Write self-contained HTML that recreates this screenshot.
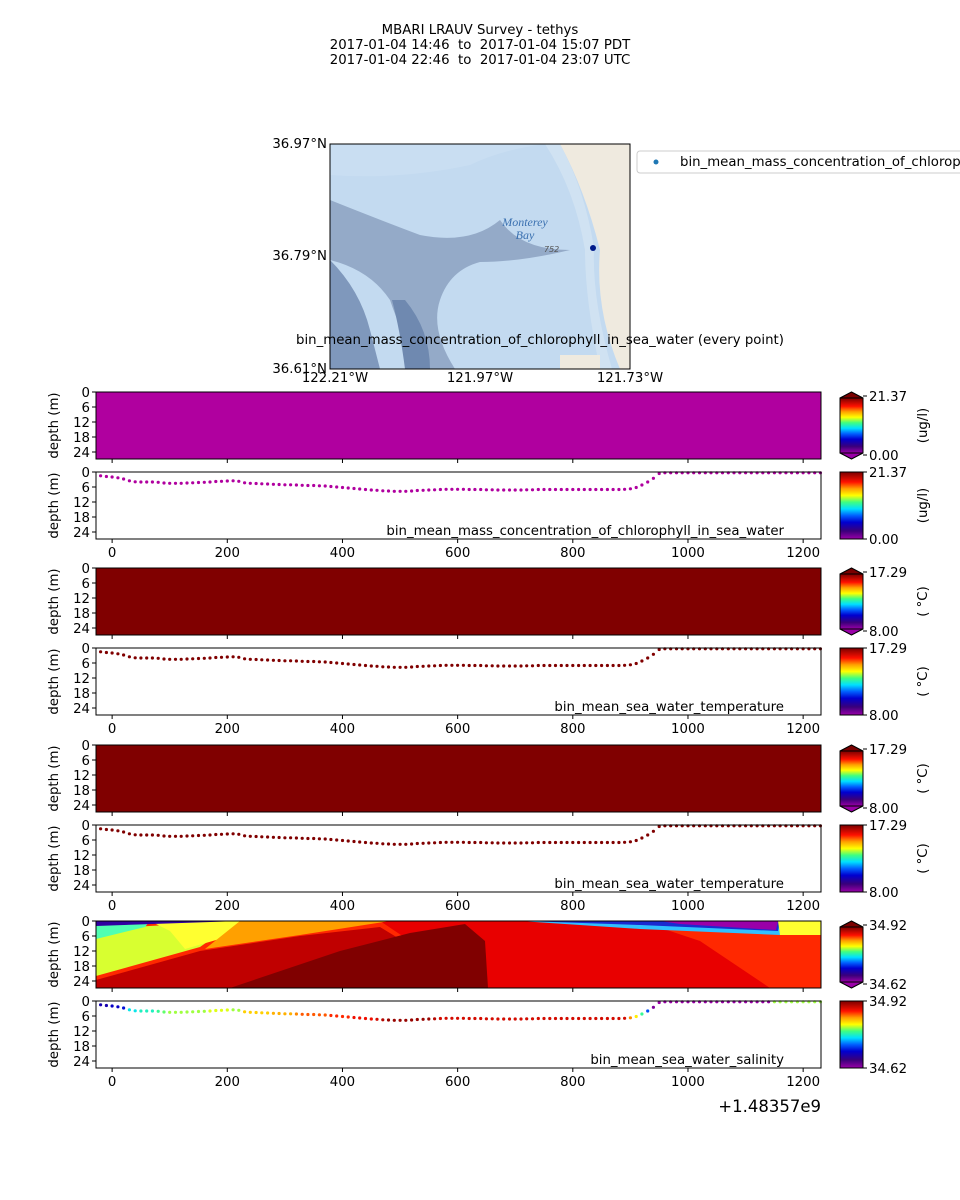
<!DOCTYPE html>
<html><head><meta charset="utf-8"><style>
html,body{margin:0;padding:0;background:#fff}
svg{display:block;font-family:"DejaVu Sans","Liberation Sans",sans-serif}
text{white-space:pre}
</style></head><body>
<svg id="fig" width="960" height="1200" viewBox="0 0 960 1200">
<defs>
<linearGradient id="cmap" x1="0" y1="1" x2="0" y2="0">
<stop offset="0" stop-color="#9a00a8"/><stop offset="0.12" stop-color="#3a007a"/>
<stop offset="0.25" stop-color="#0000d0"/><stop offset="0.35" stop-color="#0060ff"/>
<stop offset="0.45" stop-color="#00e0ff"/><stop offset="0.55" stop-color="#40ff80"/>
<stop offset="0.65" stop-color="#ffff00"/><stop offset="0.75" stop-color="#ffa000"/>
<stop offset="0.85" stop-color="#ff1000"/><stop offset="1" stop-color="#7a0000"/>
</linearGradient>
<clipPath id="mapclip"><rect x="330" y="144" width="300" height="225"/></clipPath>
</defs>
<g font-size="13.3" text-anchor="middle" fill="#000">
<text x="480" y="34">MBARI LRAUV Survey - tethys</text>
<text x="480" y="49" xml:space="preserve">2017-01-04 14:46  to  2017-01-04 15:07 PDT</text>
<text x="480" y="64" xml:space="preserve">2017-01-04 22:46  to  2017-01-04 23:07 UTC</text>
</g>
<g>
<g clip-path="url(#mapclip)">
<rect x="330" y="144" width="300" height="225" fill="#c3daf0"/>
<path d="M330,144 L560,144 Q585,190 600,250 Q595,310 620,369 L630,369 L630,144 Z" fill="#efeadf"/>
<path d="M560,144 Q585,190 594,248 Q592,300 612,369 L600,369 Q585,300 585,250 Q575,190 545,144Z" fill="#d0e2f2"/>
<path d="M330,144 L545,144 Q500,150 470,165 Q400,180 330,175Z" fill="#c9def2"/>
<path d="M330,200 Q380,220 420,235 Q470,245 500,220 Q520,250 570,250 Q520,262 480,262 Q450,270 440,300 Q430,330 455,369 L420,369 Q400,330 390,300 Q370,270 330,260Z" fill="#94aac8"/>
<path d="M330,260 Q360,290 370,330 L380,369 L330,369Z" fill="#7f98bc"/>
<path d="M405,300 Q430,330 430,369 L405,369 Q400,330 392,300Z" fill="#6f89b0"/>
<rect x="560" y="355" width="40" height="14" fill="#efeadf"/>
<text x="525" y="226" font-size="12" font-style="italic" fill="#3a70b0" font-family="Liberation Serif,serif" text-anchor="middle">Monterey</text>
<text x="525" y="239" font-size="12" font-style="italic" fill="#3a70b0" font-family="Liberation Serif,serif" text-anchor="middle">Bay</text>
<text x="544" y="252" font-size="8" fill="#555" font-style="italic">752</text>
</g>
<rect x="330" y="144" width="300" height="225" fill="none" stroke="#000"/>
<circle cx="593" cy="248" r="3" fill="#001a8a"/>
<g font-size="13.3" fill="#000">
<text x="327" y="148" text-anchor="end">36.97°N</text>
<text x="327" y="260" text-anchor="end">36.79°N</text>
<text x="327" y="373" text-anchor="end">36.61°N</text>
<text x="335" y="382" text-anchor="middle">122.21°W</text>
<text x="480" y="382" text-anchor="middle">121.97°W</text>
<text x="630" y="382" text-anchor="middle">121.73°W</text>
</g>
<text x="540" y="344" font-size="13.3" text-anchor="middle">bin_mean_mass_concentration_of_chlorophyll_in_sea_water (every point)</text>
<g>
<rect x="637" y="151" width="340" height="22" rx="3" fill="#fff" stroke="#ccc"/>
<circle cx="656" cy="162" r="2.5" fill="#1f77b4"/>
<text x="680" y="166" font-size="13.3">bin_mean_mass_concentration_of_chlorophyll_in_sea_water</text>
</g>
</g>
<g id="panels"></g>
<text x="821" y="1112" font-size="16.5" text-anchor="end">+1.48357e9</text>
</svg>
<script>
const times=[];for(let i=0;i<126;i++)times.push(-20+i*10);
const depths=[1.5,1.8,2.0,2.3,2.8,3.5,3.9,4.0,4.0,4.0,4.1,4.4,4.5,4.5,4.5,4.4,4.3,4.2,4.1,4.0,3.8,3.7,3.6,3.5,3.7,4.3,4.5,4.6,4.7,4.8,4.9,5.0,5.1,5.1,5.2,5.3,5.4,5.4,5.5,5.6,5.8,6.0,6.2,6.4,6.6,6.8,7.0,7.2,7.3,7.5,7.6,7.7,7.7,7.7,7.6,7.4,7.3,7.2,7.1,7.0,6.9,6.9,6.9,6.9,7.0,7.0,7.0,7.1,7.1,7.2,7.2,7.2,7.2,7.2,7.1,7.1,7.0,7.0,7.0,7.0,7.0,7.0,7.0,7.0,7.0,7.0,7.0,7.0,7.0,7.0,7.0,6.9,6.7,6.2,5.2,4.0,2.5,0.6,0.3,0.3,0.3,0.3,0.3,0.3,0.3,0.3,0.3,0.3,0.3,0.3,0.3,0.3,0.3,0.3,0.3,0.3,0.3,0.3,0.3,0.3,0.3,0.3,0.3,0.3,0.3,0.3];
const salinity=[34.68,34.68,34.69,34.69,34.70,34.76,34.76,34.77,34.77,34.77,34.78,34.79,34.80,34.80,34.80,34.80,34.80,34.80,34.80,34.81,34.81,34.81,34.81,34.80,34.80,34.83,34.83,34.83,34.83,34.83,34.84,34.84,34.84,34.84,34.85,34.86,34.86,34.86,34.86,34.86,34.87,34.87,34.87,34.87,34.88,34.88,34.88,34.88,34.89,34.90,34.91,34.91,34.91,34.91,34.91,34.91,34.91,34.91,34.90,34.89,34.89,34.89,34.89,34.89,34.89,34.89,34.89,34.89,34.89,34.89,34.89,34.89,34.89,34.89,34.89,34.89,34.89,34.89,34.89,34.89,34.89,34.89,34.89,34.89,34.89,34.89,34.89,34.89,34.89,34.89,34.89,34.89,34.85,34.82,34.78,34.72,34.63,34.62,34.62,34.62,34.62,34.62,34.62,34.62,34.62,34.62,34.62,34.62,34.62,34.62,34.62,34.62,34.62,34.62,34.62,34.62,34.62,34.80,34.80,34.80,34.80,34.80,34.80,34.80,34.80,34.80];
const xTicks=[0,200,400,600,800,1000,1200];
const depthTicks=[0,6,12,18,24];
const panelTops=[392,472,568,648,745,825,921,1001];
const panelKinds=['fill','scatter','fill','scatter','fill','scatter','salfill','scatter'];
const panelNames=['chlorophyll','chlorophyll','temperature','temperature','temperature','temperature','salinity','salinity'];
const panelLabels=['','bin_mean_mass_concentration_of_chlorophyll_in_sea_water','','bin_mean_sea_water_temperature','','bin_mean_sea_water_temperature','','bin_mean_sea_water_salinity'];
const cbMin=['0.00','0.00','8.00','8.00','8.00','8.00','34.62','34.62'];
const cbMax=['21.37','21.37','17.29','17.29','17.29','17.29','34.92','34.92'];
const cbUnits=['(ug/l)','(ug/l)','( °C)','( °C)','( °C)','( °C)','',''];
const NS='http://www.w3.org/2000/svg';
const FS=13.3;
const X0=96,X1=821,PH=67,TMIN=-28,TMAX=1231,DMAX=26.8;
const xs=t=>X0+(t-TMIN)/(TMAX-TMIN)*(X1-X0);
const ys=(top,d)=>top+d/DMAX*PH;
const stops=[[0,[154,0,168]],[0.12,[58,0,122]],[0.25,[0,0,208]],[0.35,[0,96,255]],[0.45,[0,224,255]],[0.55,[64,255,128]],[0.65,[255,255,0]],[0.75,[255,160,0]],[0.85,[255,16,0]],[1,[122,0,0]]];
function cmap(f){f=Math.max(0,Math.min(1,f));for(let i=1;i<stops.length;i++){if(f<=stops[i][0]){const a=stops[i-1],b=stops[i],u=(f-a[0])/(b[0]-a[0]);return 'rgb('+a[1].map((c,k)=>Math.round(c+(b[1][k]-c)*u)).join(',')+')';}}return 'rgb(122,0,0)';}
function mk(tag,attrs,parent){const e=document.createElementNS(NS,tag);for(const k in attrs)e.setAttribute(k,attrs[k]);parent.appendChild(e);return e;}
const root=document.getElementById('panels');
panelTops.forEach((top,pi)=>{
  const g=mk('g',{},root);
  
  
  const kind=panelKinds[pi];
  if(kind==='fill'){
    const r=mk('rect',{x:X0,y:top,width:X1-X0,height:PH,fill:pi===0?'#b0009f':'#800000'},g);
    
    
  } else if(kind==='salfill'){
    const cg=mk('g',{},g);
    
    
    const b=top+PH,R=X1;
    const polys=[
      ['#ff2800',`${X0},${top} ${R},${top} ${R},${b} ${X0},${b}`],
      ['#e80000',`380,${top} 640,${top} 700,${top+20} 770,${b} 480,${b}`],
      ['#d8ff30',`${X0},${top+8} 240,${top} 220,${top+12} 200,${top+26} ${X0},${b-12}`],
      ['#ffff30',`150,${top} 270,${top} 230,${top+15} 185,${top+28} 170,${top+10}`],
      ['#50ffb0',`${X0},${top+4} 150,${top} 145,${top+6} ${X0},${top+18}`],
      ['#ffa000',`240,${top} 390,${top} 300,${top+14} 205,${top+28}`],
      ['#c00000',`${X0},${b} ${X0},${b-8} 200,${top+30} 300,${top+15} 380,${top+6} 480,${b}`],
      ['#800000',`230,${b} 340,${top+30} 410,${top+12} 465,${top+3} 485,${top+20} 488,${b}`],
      ['#ffa000',`${R-50},${top} ${R},${top} ${R},${top+12} ${R-50},${top+12}`],
      ['#30c0ff',`520,${top} 790,${top} 780,${top+14} 640,${top+8}`],
      ['#1a2ad0',`525,${top} 780,${top} 778,${top+10} 640,${top+4}`],
      ['#9a00a8',`660,${top} 778,${top} 776,${top+9} 680,${top+3}`],
      ['#3000a0',`${X0},${top} 240,${top} ${X0},${top+5}`],
      ['#ffff30',`778,${top} ${R},${top} ${R},${top+14} 780,${top+14}`]
    ];
    polys.forEach(p=>{const e=mk('polygon',{points:p[1],fill:p[0]},cg);});
  } else {
    const sg=mk('g',{},g);
    
    
    times.forEach((t,i)=>{
      let col=pi===1?'#b0009f':'#800000';
      if(pi===7)col=cmap((salinity[i]-34.62)/0.30);
      const c=mk('circle',{cx:xs(t).toFixed(1),cy:ys(top,depths[i]).toFixed(1),r:1.6,fill:col},sg);
      
      
    });
    const lb=mk('text',{x:784,y:top+63,'font-size':FS,'text-anchor':'end'},g);
    lb.textContent=panelLabels[pi];
    
    
  }
  const frame=mk('rect',{x:X0,y:top,width:X1-X0,height:PH,fill:'none',stroke:'#000','stroke-width':1},g);
  
  
  const yt=mk('g',{'font-size':FS,'text-anchor':'end'},g);
  
  
  depthTicks.forEach(d=>{const y=ys(top,d);mk('line',{x1:X0-4,x2:X0,y1:y,y2:y,stroke:'#000'},yt);const t=mk('text',{x:X0-6,y:y+5},yt);t.textContent=d;});
  const yl=mk('text',{x:58,y:top+PH/2,'font-size':FS,'text-anchor':'middle',transform:`rotate(-90 58 ${top+PH/2})`},g);
  yl.textContent='depth (m)';
  
  
  const xt=mk('g',{'font-size':FS,'text-anchor':'middle'},g);
  
  
  xTicks.forEach(v=>{const x=xs(v);mk('line',{x1:x,x2:x,y1:top+PH,y2:top+PH+4,stroke:'#000'},xt);
    if(kind==='scatter'){const t=mk('text',{x:x,y:top+PH+18},xt);t.textContent=v;}});
  const cb=mk('g',{},g);
  
  
  const cx=840,cw=23;
  if(kind==='scatter'){
    mk('rect',{x:cx,y:top,width:cw,height:PH,fill:'url(#cmap)',stroke:'#000'},cb);
  } else {
    mk('polygon',{points:`${cx},${top+6} ${cx+cw/2},${top} ${cx+cw},${top+6}`,fill:'#7a0000',stroke:'#000'},cb);
    mk('rect',{x:cx,y:top+6,width:cw,height:PH-12,fill:'url(#cmap)',stroke:'#000'},cb);
    mk('polygon',{points:`${cx},${top+PH-6} ${cx+cw/2},${top+PH} ${cx+cw},${top+PH-6}`,fill:'#9a00a8',stroke:'#000'},cb);
  }
  const ins=kind==='scatter'?0:4;
  mk('line',{x1:cx+cw,x2:cx+cw+4,y1:top+ins,y2:top+ins,stroke:'#000'},cb);
  mk('line',{x1:cx+cw,x2:cx+cw+4,y1:top+PH-ins,y2:top+PH-ins,stroke:'#000'},cb);
  const mx=mk('text',{x:cx+cw+6,y:top+ins+5,'font-size':FS},cb);mx.textContent=cbMax[pi];
  const mn=mk('text',{x:cx+cw+6,y:top+PH-ins+5,'font-size':FS},cb);mn.textContent=cbMin[pi];
  if(cbUnits[pi]){const u=mk('text',{x:927,y:top+PH/2,'font-size':FS,'text-anchor':'middle',transform:`rotate(-90 927 ${top+PH/2})`},cb);u.textContent=cbUnits[pi];}
});
</script>
</body></html>
